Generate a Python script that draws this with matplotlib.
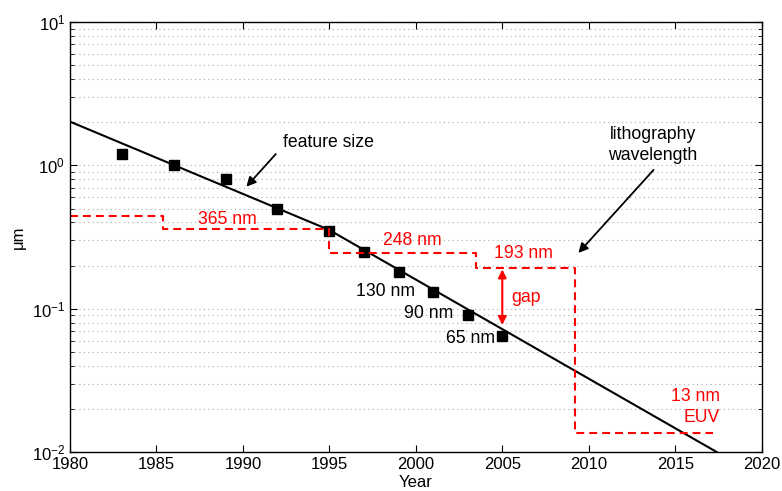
import matplotlib
matplotlib.use("Agg")
import matplotlib.pyplot as plt
from matplotlib.ticker import LogLocator, NullFormatter, MultipleLocator

plt.rcParams['font.family'] = ['Liberation Sans', 'DejaVu Sans']
plt.rcParams['mathtext.fontset'] = 'custom'
plt.rcParams['mathtext.rm'] = 'Liberation Sans'
plt.rcParams['mathtext.it'] = 'Liberation Sans:italic'

# feature size trend line (break points)
trend_years = [1980, 1995, 2017.4]
trend_um = [2.02, 0.354, 0.01]

# feature size data points
node_years = [1983, 1986, 1989, 1992, 1995, 1997, 1999, 2001, 2003, 2005]
node_um = [1.2, 1.0, 0.8, 0.5, 0.35, 0.25, 0.18, 0.13, 0.09, 0.065]

# labelled nodes (text anchor, right edge)
label_years = [1999.95, 2002.15, 2004.6]
label_um = [0.131, 0.092, 0.0615]
label_text = ["130 nm", "90 nm", "65 nm"]

# lithography wavelength steps
litho_years = [1980, 1985.4, 1995, 2003.5, 2009.2, 2017.2]
litho_um = [0.44, 0.36, 0.246, 0.193, 0.0136]

fs = 12.7
red = '#ff0000'

fig = plt.figure(figsize=(7.82, 4.91), dpi=100, facecolor='w')
ax = fig.add_axes([0.0895, 0.0794, 0.8845, 0.8756])

ax.semilogy(trend_years, trend_um, '-k', lw=1.5)
ax.semilogy(node_years, node_um, 'ks', ms=6.5)

ax.step(litho_years, litho_um + [litho_um[-1]], where='post', color=red,
        ls=(0, (3.8, 2.4)), lw=1.5)

for yr, v, t in zip(label_years, label_um, label_text):
    ax.text(yr, v, t, ha='right', va='center', fontsize=fs)

ax.text(1989.1, 0.416, "365 nm", color=red, fontsize=fs, ha='center', va='center')
ax.text(1999.8, 0.30, "248 nm", color=red, fontsize=fs, ha='center', va='center')
ax.text(2006.2, 0.241, "193 nm", color=red, fontsize=fs, ha='center', va='center')
ax.text(2006.4, 0.119, "gap", color=red, fontsize=fs, ha='center', va='center')
ax.text(2017.6, 0.0205, "13 nm\nEUV", color=red, fontsize=fs, ha='right',
        va='center', multialignment='right', linespacing=1.3)

ax.annotate("", xy=(2005, 0.077), xytext=(2005, 0.188),
            arrowprops=dict(arrowstyle='<|-|>', color=red, lw=1.5,
                            mutation_scale=12, shrinkA=0, shrinkB=0))

ax.annotate("", xy=(1990.2, 0.71), xytext=(1991.9, 1.2),
            arrowprops=dict(arrowstyle='-|>', color='k', lw=1.3,
                            mutation_scale=14, shrinkA=0, shrinkB=0))
ax.text(1992.3, 1.45, "feature size", fontsize=fs, ha='left', va='center')

ax.annotate("", xy=(2009.4, 0.245), xytext=(2013.75, 0.93),
            arrowprops=dict(arrowstyle='-|>', color='k', lw=1.3,
                            mutation_scale=14, shrinkA=0, shrinkB=0))
ax.text(2013.7, 1.38, "lithography\nwavelength", fontsize=fs, ha='center',
        va='center', linespacing=1.3)

ax.set_xlim(1980, 2020)
ax.set_ylim(1e-2, 1e1)
ax.xaxis.set_major_locator(MultipleLocator(5))
ax.yaxis.set_major_locator(LogLocator(base=10, numticks=10))
ax.yaxis.set_minor_locator(LogLocator(base=10, subs=range(2, 10), numticks=10))
ax.yaxis.set_minor_formatter(NullFormatter())

ax.grid(True, axis='y', which='both', ls=(0, (1, 3)), color='#aaaaaa', lw=0.8)
ax.tick_params(which='both', direction='in', top=True, right=True, labelsize=12)
ax.tick_params(which='major', length=5)
ax.tick_params(which='minor', length=3)
for s in ax.spines.values():
    s.set_linewidth(1.0)

ax.set_xlabel("Year", fontsize=12, labelpad=2)
ax.set_ylabel("μm", fontsize=12)

fig.savefig("out.png", dpi=100)
